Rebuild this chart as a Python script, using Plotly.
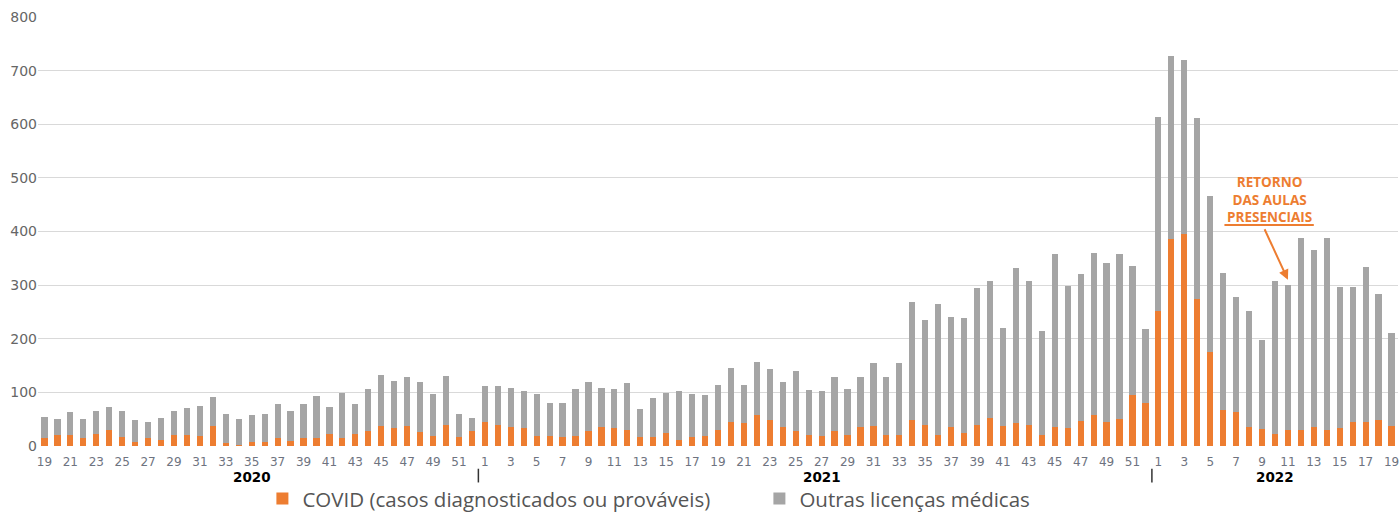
import plotly.graph_objects as go

# ---- data ----
weeks_2020 = list(range(19, 53))
weeks_2021 = list(range(1, 53))
weeks_2022 = list(range(1, 20))

covid_2020 = [15, 20, 20, 14, 23, 29, 17, 8, 14, 12,
              20, 20, 18, 38, 6, 2, 8, 8, 15, 10,
              14, 15, 22, 15, 22, 28, 38, 33, 38, 26,
              19, 40, 17, 28]
outras_2020 = [39, 31, 43, 37, 42, 43, 48, 41, 30, 40,
               45, 50, 57, 53, 54, 49, 49, 52, 64, 55,
               65, 79, 50, 83, 57, 79, 94, 89, 91, 94,
               78, 91, 42, 24]

covid_2021 = [44, 40, 35, 33, 19, 19, 16, 19, 28, 36,
              33, 29, 17, 16, 24, 12, 16, 19, 30, 45,
              43, 58, 48, 35, 28, 21, 19, 28, 21, 36,
              38, 21, 21, 48, 40, 21, 36, 25, 40, 52,
              38, 43, 40, 21, 36, 33, 46, 57, 45, 50,
              95, 80]
outras_2021 = [68, 72, 74, 69, 78, 62, 65, 88, 91, 73,
               73, 89, 52, 74, 75, 90, 81, 77, 84, 101,
               71, 99, 95, 85, 111, 83, 83, 100, 86, 92,
               117, 107, 134, 221, 195, 243, 205, 214, 254, 256,
               182, 289, 268, 194, 322, 266, 274, 303, 297, 308,
               240, 139]

covid_2022 = [252, 386, 396, 275, 175, 67, 64, 35, 31, 22,
              29, 29, 35, 29, 33, 45, 44, 48, 38]
outras_2022 = [362, 342, 324, 337, 292, 256, 214, 217, 166, 286,
               271, 358, 331, 358, 264, 251, 289, 236, 172]

years = ["2020", "2021", "2022"]
year_label_week = {"2020": 35, "2021": 27, "2022": 10}

series_covid_name = "COVID (casos diagnosticados ou prováveis)"
series_outras_name = "Outras licenças médicas"
annot_lines = ["RETORNO", "DAS AULAS", "PRESENCIAIS"]
annot_target = ("2022", 11)

ORANGE = "#ED7D31"
GREY = "#A5A5A5"

# ---- build categories ----
cats, covid, outras, tickvals, ticktext = [], [], [], [], []
for y, wk, cv, ot in [("2020", weeks_2020, covid_2020, outras_2020),
                      ("2021", weeks_2021, covid_2021, outras_2021),
                      ("2022", weeks_2022, covid_2022, outras_2022)]:
    for w, c, o in zip(wk, cv, ot):
        key = f"{y}-{w:02d}"
        cats.append(key)
        covid.append(c)
        outras.append(o)
        if w % 2 == 1:
            tickvals.append(key)
            ticktext.append(str(w))

fig = go.Figure()
fig.add_trace(go.Bar(x=cats, y=covid, name=series_covid_name,
                     marker=dict(color=ORANGE, line=dict(width=0))))
fig.add_trace(go.Bar(x=cats, y=outras, name=series_outras_name,
                     marker=dict(color=GREY, line=dict(width=0))))

# year labels
for y in years:
    fig.add_annotation(x=f"{y}-{year_label_week[y]:02d}", y=-0.0725, xref="x", yref="paper",
                       text=f"<b>{y}</b>", showarrow=False,
                       font=dict(family="DejaVu Sans", size=13.5, color="#000000"),
                       yanchor="middle", borderpad=0)

# year separators
boundaries = [len(weeks_2020) - 0.5, len(weeks_2020) + len(weeks_2021) - 0.5]
for b in boundaries:
    fig.add_shape(type="line", xref="x", yref="paper", x0=b, x1=b,
                  y0=-0.053, y1=-0.085, line=dict(color="#333333", width=1.5))

# annotation "Retorno das aulas presenciais"
tgt_idx = cats.index(f"{annot_target[0]}-{annot_target[1]:02d}")
tgt_val = covid[tgt_idx] + outras[tgt_idx]
text_x = tgt_idx - 1.4
fig.add_annotation(x=text_x, y=459, xref="x", yref="y",
                   text="<br>".join(f"<b>{l}</b>" for l in annot_lines),
                   showarrow=False, font=dict(family="Open Sans", size=13.5, color=ORANGE),
                   yanchor="middle", align="center")
fig.add_shape(type="line", xref="x", yref="y", x0=tgt_idx - 4.9, x1=tgt_idx + 2.0,
              y0=412, y1=412, line=dict(color=ORANGE, width=2))
fig.add_annotation(x=tgt_idx, y=tgt_val + 10, xref="x", yref="y", text="",
                   showarrow=True, ax=-24, ay=-52, arrowhead=2, arrowsize=1,
                   arrowwidth=2, arrowcolor=ORANGE, standoff=0)

fig.update_layout(
    barmode="stack",
    bargap=0.52,
    width=1400, height=512,
    margin=dict(l=38, r=2, t=17, b=66, autoexpand=False),
    plot_bgcolor="white", paper_bgcolor="white",
    font=dict(family="DejaVu Sans", color="#666666"),
    legend=dict(orientation="h", x=0.165, xanchor="left",
                yref="container", y=0.026, yanchor="middle",
                font=dict(family="Open Sans", size=20.5, color="#555555"),
                traceorder="normal", itemclick=False, entrywidth=452,
                entrywidthmode="pixels", bgcolor="rgba(0,0,0,0)"),
    xaxis=dict(type="category", categoryorder="array", categoryarray=cats,
               tickmode="array", tickvals=tickvals, ticktext=ticktext,
               tickfont=dict(family="DejaVu Sans", size=12, color="#6e7380"),
               showgrid=False, showline=False, ticks="", range=[-0.5, len(cats) - 0.5],
               tickangle=0, automargin=False, ticklabelstandoff=7),
    yaxis=dict(range=[0, 800], tickvals=list(range(0, 801, 100)),
               tickfont=dict(family="DejaVu Sans", size=14, color="#666666"),
               showgrid=True, gridcolor="#d9d9d9", gridwidth=1, zeroline=False,
               showline=False, ticks="", automargin=False),
)

fig.write_html("out.html", config={"displayModeBar": False},
               post_script="document.body.style.margin='0';")
